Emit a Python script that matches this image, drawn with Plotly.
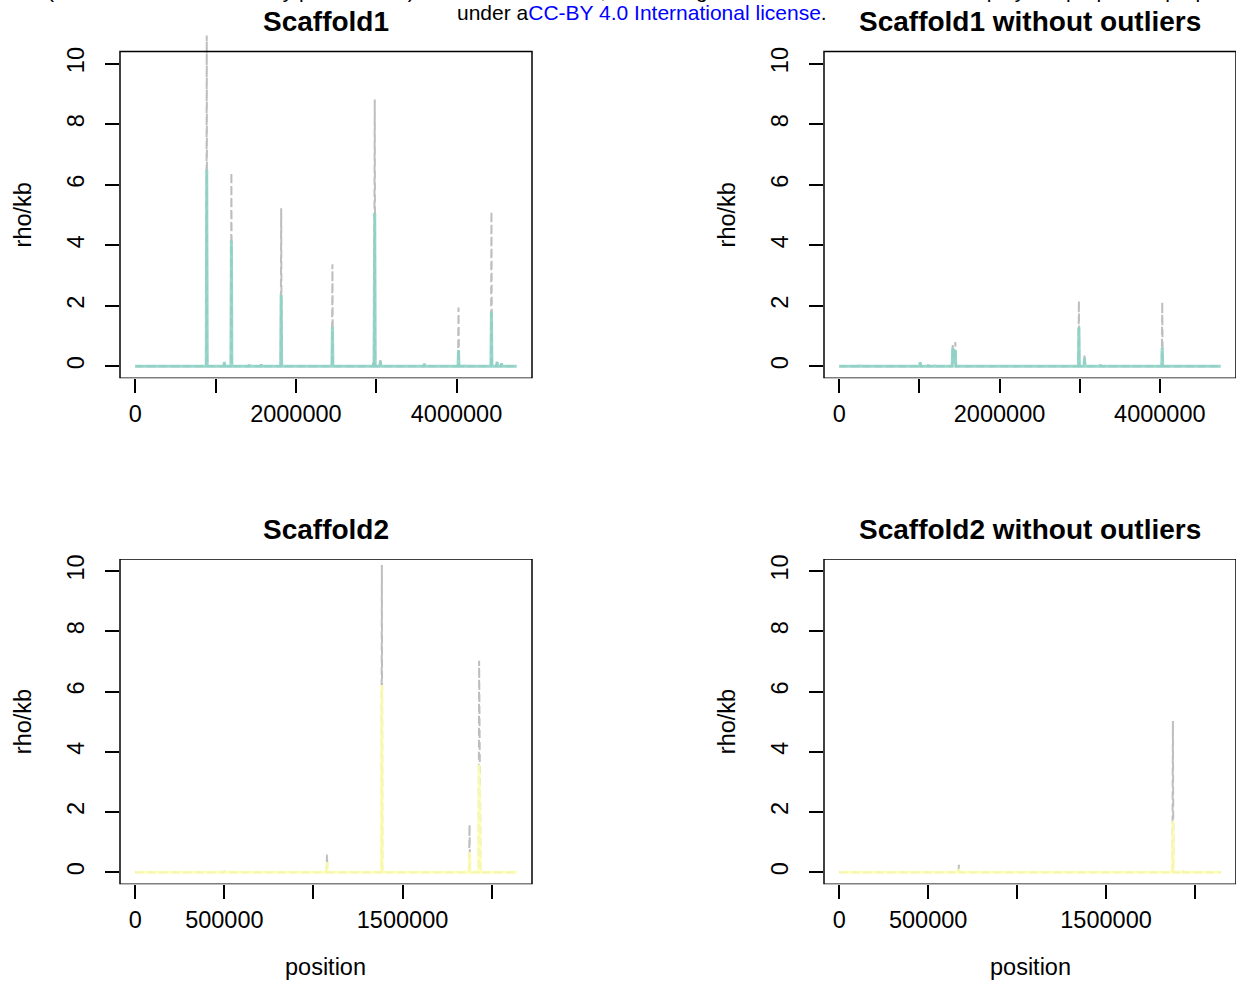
import plotly.graph_objects as go

# ---------------------------------------------------------------
# Recombination rate (rho/kb) along two scaffolds, full data and
# with outliers removed. Solid coloured line = mean estimate,
# grey dashed line = upper bound.
# ---------------------------------------------------------------

# Scaffold1 (all windows)
s1_pos = [0, 884000, 890000, 896000, 1104000, 1110000, 1116000,
          1191000, 1197000, 1203000, 1414000, 1420000, 1426000,
          1564000, 1570000, 1576000, 1811000, 1817000, 1823000,
          2449000, 2455000, 2461000, 2961000, 2967000, 2973000,
          2982000, 2988000, 3046000, 3052000, 3058000, 3594000,
          3600000, 3606000, 4019000, 4025000, 4031000, 4089000,
          4095000, 4101000, 4429000, 4435000, 4441000, 4499000,
          4505000, 4511000, 4554000, 4560000, 4566000, 4750000]
s1_mean = [0, 0, 6.49, 0, 0, 0.14, 0,
           0, 4.15, 0, 0, 0.05, 0,
           0, 0.06, 0, 0, 2.37, 0,
           0, 1.30, 0, 0, 0.10, 0,
           5.06, 0, 0, 0.17, 0, 0,
           0.08, 0, 0, 0.53, 0, 0,
           0.03, 0, 0, 1.80, 0, 0,
           0.14, 0, 0, 0.10, 0, 0]
s1_upper = [0, 0, 10.93, 0, 0, 0.14, 0,
            0, 6.40, 0, 0, 0.05, 0,
            0, 0.06, 0, 0, 5.22, 0,
            0, 3.37, 0, 0, 0.12, 0,
            8.81, 0, 0, 0.20, 0, 0,
            0.08, 0, 0, 1.94, 0, 0,
            0.03, 0, 0, 5.11, 0, 0,
            0.14, 0, 0, 0.10, 0, 0]

# Scaffold1 without outliers
s1n_pos = [0, 254000, 260000, 266000, 1004000, 1010000, 1016000,
           1104000, 1110000, 1116000, 1190000, 1196000, 1202000,
           1409000, 1415000, 1430000, 1448000, 1454000,
           2984000, 2990000, 2996000, 3054000, 3060000, 3066000,
           3254000, 3260000, 3266000, 4024000, 4030000, 4036000, 4760000]
s1n_mean = [0, 0, 0.03, 0, 0, 0.13, 0,
            0, 0.04, 0, 0, 0.03, 0,
            0, 0.62, 0.10, 0.53, 0,
            0, 1.29, 0, 0, 0.27, 0,
            0, 0.05, 0, 0, 0.62, 0, 0]
s1n_upper = [0, 0, 0.03, 0, 0, 0.13, 0,
             0, 0.04, 0, 0, 0.03, 0,
             0, 0.70, 0.12, 0.80, 0,
             0, 2.16, 0, 0, 0.40, 0,
             0, 0.05, 0, 0, 2.12, 0, 0]

# Scaffold2 (all windows)
s2_pos = [0, 497000, 500000, 503000, 1073000, 1076000, 1079000,
          1381000, 1384000, 1387000, 1873000, 1876000, 1879000,
          1927000, 1930000, 1935000, 1938000, 2141000]
s2_mean = [0, 0, 0.05, 0, 0, 0.34, 0,
           0, 6.22, 0, 0, 0.67, 0,
           0, 3.58, 0.90, 0, 0]
s2_upper = [0, 0, 0.05, 0, 0, 0.59, 0,
            0, 10.20, 0, 0, 1.58, 0,
            0, 7.02, 1.42, 0, 0]

# Scaffold2 without outliers
s2n_pos = [0, 670000, 673000, 676000, 1873000, 1876000, 1879000,
           1929000, 1932000, 1935000, 2145000]
s2n_mean = [0, 0, 0.11, 0, 0, 1.71, 0, 0, 0.05, 0, 0]
s2n_upper = [0, 0, 0.25, 0, 0, 5.02, 0, 0, 0.05, 0, 0]

titles = ["Scaffold1", "Scaffold1 without outliers",
          "Scaffold2", "Scaffold2 without outliers"]
y_ticks = [0, 2, 4, 6, 8, 10]
x_ticks_s1 = [0, 1000000, 2000000, 3000000, 4000000]
x_labels_s1 = ["0", "", "2000000", "", "4000000"]
x_ticks_s2 = [0, 500000, 1000000, 1500000, 2000000]
x_labels_s2 = ["0", "500000", "", "1500000", ""]

TEAL = "#8DD3C7"
YELLOW = "#FFFFB3"
GREY = "#BEBEBE"
FONT = "Liberation Sans"

W, H = 1236, 983

# plotting boxes in pixels: (left, right, top, bottom)
boxes = [(120, 532, 51.5, 378.3), (824, 1236, 51.5, 378.3),
         (120, 532, 559, 884.3), (824, 1236, 559, 884.3)]
BOX_W = 532 - 120
YLIM = (-0.4, 10.4)

panels = [
    (s1_pos, s1_mean, s1_upper, TEAL, x_ticks_s1, x_labels_s1),
    (s1n_pos, s1n_mean, s1n_upper, TEAL, x_ticks_s1, x_labels_s1),
    (s2_pos, s2_mean, s2_upper, YELLOW, x_ticks_s2, x_labels_s2),
    (s2n_pos, s2n_mean, s2n_upper, YELLOW, x_ticks_s2, x_labels_s2),
]

fig = go.Figure()
layout = dict(
    width=W, height=H, margin=dict(l=0, r=0, t=0, b=0),
    paper_bgcolor="white", plot_bgcolor="white", showlegend=False,
    font=dict(family=FONT, size=23, color="black"),
)
shapes = []
annotations = []

for i, (pos, mean, upper, col, xt, xl) in enumerate(panels):
    n = i + 1
    xa = "x" if n == 1 else f"x{n}"
    ya = "y" if n == 1 else f"y{n}"
    left, right, top, bottom = boxes[i]
    xmax = pos[-1]
    x0 = -0.04 * xmax
    x1 = 1.04 * xmax
    # keep the same pixel scale if the box is clipped by the page edge
    x1 = x0 + (x1 - x0) * (right - left) / BOX_W

    # top row gets some extra headroom so tall spikes can run past the frame
    dom_top = 30 if i < 2 else top
    px_per_unit = (bottom - top) / (YLIM[1] - YLIM[0])
    ytop = YLIM[0] + (bottom - dom_top) / px_per_unit

    fig.add_trace(go.Scatter(
        x=pos, y=upper, mode="lines", xaxis=xa, yaxis=ya,
        line=dict(color=GREY, width=2, dash="8px,4px"), hoverinfo="skip"))
    fig.add_trace(go.Scatter(
        x=pos, y=mean, mode="lines", xaxis=xa, yaxis=ya, opacity=0.88,
        line=dict(color=col, width=3), hoverinfo="skip"))

    xkey = "xaxis" if n == 1 else f"xaxis{n}"
    ykey = "yaxis" if n == 1 else f"yaxis{n}"
    layout[xkey] = dict(
        domain=[left / W, right / W], range=[x0, x1], anchor=ya,
        showgrid=False, zeroline=False, showline=False, automargin=False,
        ticks="outside", ticklen=14, tickwidth=1.5, tickcolor="black",
        tickvals=xt, ticktext=xl, ticklabelstandoff=0,
        tickfont=dict(family=FONT, size=23.5, color="black"))
    layout[ykey] = dict(
        domain=[1 - bottom / H, 1 - dom_top / H], range=[YLIM[0], ytop],
        anchor=xa, showgrid=False, zeroline=False, showline=False,
        automargin=False,
        ticks="outside", ticklen=14, tickwidth=1.5, tickcolor="black",
        tickvals=y_ticks, ticktext=[str(v) for v in y_ticks],
        tickangle=-90, ticklabelstandoff=12,
        tickfont=dict(family=FONT, size=23.5, color="black"))

    # frame around the plotting region
    shapes.append(dict(type="rect", xref=f"{xa} domain", yref=ya,
                       x0=0, x1=BOX_W / (right - left),
                       y0=YLIM[0], y1=YLIM[1],
                       line=dict(color="black", width=1.5), layer="above"))

    cx = left + BOX_W / 2
    annotations.append(dict(
        text=f"<b>{titles[i]}</b>", xref="paper", yref="paper",
        x=cx / W, y=1 - (top - 30) / H, xanchor="center", yanchor="middle",
        showarrow=False, font=dict(family=FONT, size=28, color="black")))
    annotations.append(dict(
        text="rho/kb", xref="paper", yref="paper", textangle=-90,
        x=(left - 97.5) / W, y=1 - ((top + bottom) / 2) / H,
        xanchor="center", yanchor="middle", showarrow=False,
        font=dict(family=FONT, size=23.5, color="black")))
    if i >= 2:
        annotations.append(dict(
            text="position", xref="paper", yref="paper",
            x=cx / W, y=1 - 967 / H, xanchor="center", yanchor="middle",
            showarrow=False, font=dict(family=FONT, size=23.5, color="black")))

# preprint licence notice along the top edge (first line runs off the page)
annotations.append(dict(
    text="(which was not certified by peer review) is the author/funder, who has "
         "granted bioRxiv a license to display the preprint in perpetuity.",
    xref="paper", yref="paper", x=654 / W, y=1 - 4 / H,
    xanchor="center", yanchor="bottom", showarrow=False,
    font=dict(family=FONT, size=21, color="black")))
annotations.append(dict(
    text='under a<span style="color:#0000FF">CC-BY 4.0 International license</span>.',
    xref="paper", yref="paper", x=642 / W, y=1 - 13 / H,
    xanchor="center", yanchor="middle", showarrow=False,
    font=dict(family=FONT, size=21, color="black")))

layout["shapes"] = shapes
layout["annotations"] = annotations
fig.update_layout(**layout)
fig.write_html("out.html")
